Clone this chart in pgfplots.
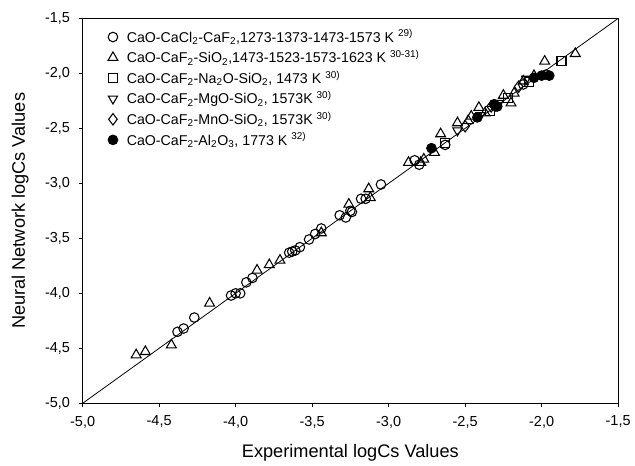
\documentclass[border=0pt]{standalone}
\usepackage{fontspec}
\setmainfont{Liberation Sans}
\usepackage{pgfplots}
\pgfplotsset{compat=1.18}

\begin{document}
\begin{tikzpicture}
\begin{axis}[
    name=ax,
    scale only axis,
    width=403.5pt, height=290pt,
    xmin=-5, xmax=-1.5, ymin=-5, ymax=-1.5,
    xtick={-5,-4.5,...,-1.5}, ytick={-5,-4.5,...,-1.5},
    tick align=outside, xtick pos=left, ytick pos=left,
    major tick length=3pt,
    axis line style={line width=0.9pt},
    tick style={line width=0.8pt, black},
    /pgf/number format/.cd, use comma, fixed, fixed zerofill, precision=1, assume math mode=true,
    /pgfplots/.cd,
    tick label style={font=\fontsize{10.9}{12}\selectfont},
    xticklabel style={yshift=-3pt},
    yticklabel style={xshift=-3pt},
    xlabel={Experimental logCs Values},
    ylabel={Neural Network logCs Values},
    label style={font=\fontsize{13.7}{15}\selectfont},
    xlabel style={at={(axis description cs:0.5,-0.129)}, anchor=center},
    ylabel style={at={(axis description cs:-0.1165,0.5)}, anchor=center},
    legend style={at={(axis description cs:0.018,0.985)}, anchor=north west,
        draw=none, fill=none, font=\fontsize{10.7}{12}\selectfont,
        row sep=0.6pt, nodes={inner sep=2pt}},
    legend cell align=left,
    legend image code/.code={%
        \path (0pt,0pt) (20pt,0pt);
        \draw[mark repeat=2,mark phase=2,#1] plot coordinates {(0pt,0pt)(12pt,0pt)(20pt,0pt)};},
    every axis plot/.append style={line width=0.8pt},
]
\addplot[black, line width=0.6pt, forget plot] coordinates {(-5,-5)(-1.5,-1.5)};

\addplot[only marks, mark=o, mark size=3.6pt, black] coordinates {
(-4.38,-4.35)(-4.34,-4.32)(-4.27,-4.22)(-4.03,-4.02)(-4.00,-4.00)(-3.97,-4.00)
(-3.93,-3.90)(-3.89,-3.86)(-3.65,-3.63)(-3.63,-3.62)(-3.61,-3.61)(-3.58,-3.58)
(-3.52,-3.51)(-3.48,-3.46)(-3.44,-3.41)(-3.32,-3.29)(-3.28,-3.31)(-3.25,-3.25)
(-3.24,-3.26)(-3.18,-3.14)(-3.15,-3.14)(-3.05,-3.01)(-2.83,-2.79)(-2.80,-2.83)
(-2.63,-2.65)(-2.30,-2.30)(-2.12,-2.10)(-1.97,-2.01)};
\addlegendentry{CaO-CaCl\textsubscript{2}-CaF\textsubscript{2},1273-1373-1473-1573 K \textsuperscript{29)}}

\addplot[only marks, mark=triangle, mark size=4.3pt, black] coordinates {
(-4.65,-4.56)(-4.59,-4.53)(-4.42,-4.47)(-4.17,-4.09)(-3.86,-3.79)(-3.78,-3.74)
(-3.71,-3.70)(-3.44,-3.45)(-3.26,-3.19)(-3.13,-3.05)(-3.12,-3.13)(-2.87,-2.81)
(-2.79,-2.81)(-2.77,-2.78)(-2.70,-2.72)(-2.66,-2.55)(-2.55,-2.45)(-2.48,-2.43)
(-2.46,-2.39)(-2.41,-2.31)(-2.37,-2.36)(-2.25,-2.20)(-2.20,-2.27)(-2.18,-2.18)
(-2.12,-2.07)(-2.05,-2.02)(-1.98,-1.89)(-1.78,-1.82)};
\addlegendentry{CaO-CaF\textsubscript{2}-SiO\textsubscript{2},1473-1523-1573-1623 K \textsuperscript{30-31)}}

\addplot[only marks, mark=square, mark size=3.4pt, black] coordinates {
(-2.63,-2.63)(-2.34,-2.34)(-2.22,-2.22)(-2.08,-2.08)(-1.87,-1.89)};
\addlegendentry{CaO-CaF\textsubscript{2}-Na\textsubscript{2}O-SiO\textsubscript{2}, 1473 K \textsuperscript{30)}}

\addplot[only marks, mark=triangle, mark size=4.0pt, black, mark options={rotate=180}] coordinates {
(-2.55,-2.52)(-2.40,-2.38)(-2.28,-2.27)(-2.10,-2.05)};
\addlegendentry{CaO-CaF\textsubscript{2}-MgO-SiO\textsubscript{2}, 1573K \textsuperscript{30)}}

\addplot[only marks, mark=diamond, mark size=4.3pt, black] coordinates {
(-2.50,-2.48)(-2.33,-2.30)(-2.15,-2.12)};
\addlegendentry{CaO-CaF\textsubscript{2}-MnO-SiO\textsubscript{2}, 1573K \textsuperscript{30)}}

\addplot[only marks, mark=*, mark size=3.6pt, black, mark options={fill=black}] coordinates {
(-2.72,-2.68)(-2.42,-2.40)(-2.31,-2.28)(-2.29,-2.30)(-2.05,-2.04)(-2.00,-2.02)(-1.95,-2.02)};
\addlegendentry{CaO-CaF\textsubscript{2}-Al\textsubscript{2}O\textsubscript{3}, 1773 K \textsuperscript{32)}}
\end{axis}
\path (ax.north west) ++(0pt,13.9pt);
\path (ax.south east) ++(10.5pt,0pt);
\path (ax.west) ++(-62.25pt,0pt);
\end{tikzpicture}
\end{document}
